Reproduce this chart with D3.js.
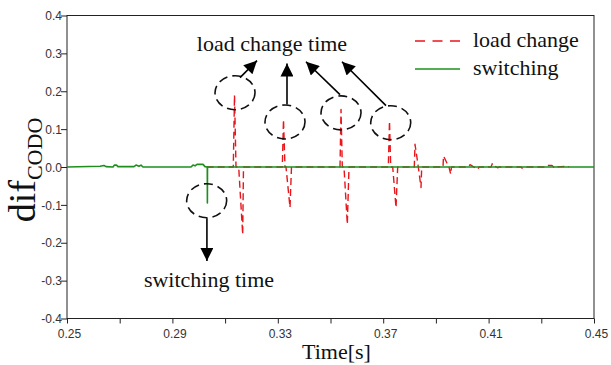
<!DOCTYPE html>
<html>
<head>
<meta charset="utf-8">
<script src="https://cdn.jsdelivr.net/npm/d3@7"></script>
<style>
  html, body { margin: 0; padding: 0; background: #fff; }
  svg { display: block; }
</style>
</head>
<body>
<svg id="chart" width="611" height="365"></svg>
<script>
// Difference signal dif_CODO over time: load-change response vs. switching response
const loadT = [0.3030, 0.31311, 0.31357, 0.31414, 0.31516, 0.31668, 0.31698,
  0.33171, 0.33216, 0.33273, 0.33311, 0.33463, 0.3352,
  0.35361, 0.35399, 0.35448, 0.35512, 0.35638, 0.35702,
  0.37194, 0.37239, 0.37285, 0.37361, 0.37486, 0.3755,
  0.3818, 0.38207, 0.38271, 0.38332, 0.38435, 0.38461,
  0.3927, 0.39289, 0.39422, 0.39497, 0.39562, 0.39592,
  0.40218, 0.40294, 0.40598, 0.40636,
  0.41091, 0.41148, 0.41243, 0.41357, 0.41395,
  0.4223, 0.42268, 0.4231,
  0.43178, 0.43254, 0.43406, 0.4352, 0.43558,
  0.44013, 0.4405];
const loadV = [0, 0, 0.19, 0, 0, -0.178, 0,
  0, 0.125, 0, 0, -0.107, 0,
  0, 0.152, 0, 0, -0.151, 0,
  0, 0.121, 0, 0, -0.107, 0,
  0, 0.06, 0.03, 0, -0.054, 0,
  0, 0.029, 0.01, 0, -0.019, 0,
  0, 0.006, -0.006, 0,
  0, 0.01, 0.002, -0.002, 0,
  0, -0.003, 0,
  0, 0.004, 0.004, -0.003, 0,
  0.002, 0];

const switchT = [0.25, 0.26252, 0.26404, 0.2648, 0.26746, 0.26803, 0.26879, 0.26935,
  0.27543, 0.27619, 0.27732, 0.27808, 0.27884, 0.29706, 0.29782, 0.29858, 0.29934,
  0.30161, 0.30237, 0.30324, 0.30328, 0.30332, 0.45];
const switchV = [0, 0.002, 0.004, 0.001, 0, 0.005, 0.005, 0.001,
  0.001, 0.005, 0.002, 0.005, 0, 0, 0.005, 0.003, 0.007,
  0.007, 0.001, 0, -0.095, 0, 0];

const xTicks = [0.25, 0.27, 0.29, 0.31, 0.33, 0.35, 0.37, 0.39, 0.41, 0.43, 0.45];
const xTickLabels = ["0.25", "", "0.29", "", "0.33", "", "0.37", "", "0.41", "", "0.45"];
const yTicks = [-0.4, -0.3, -0.2, -0.1, 0.0, 0.1, 0.2, 0.3, 0.4];
const yTickLabels = ["-0.4", "-0.3", "-0.2", "-0.1", "0.0", "0.1", "0.2", "0.3", "0.4"];

const seriesNames = ["load change", "switching"];
const seriesColors = ["#e8161c", "#1e8f1e"];

// Annotation marks, in data units
const ringT = [0.3030, 0.31376, 0.33273, 0.35399, 0.37285];
const ringV = [-0.089, 0.196, 0.119, 0.143, 0.117];
const arrowFromT = [0.3031, 0.31565, 0.33349, 0.3536, 0.37106];
const arrowFromV = [-0.135, 0.236, 0.165, 0.191, 0.162];
const arrowToT = [0.3031, 0.32211, 0.33349, 0.3407, 0.35436];
const arrowToV = [-0.248, 0.281, 0.273, 0.278, 0.278];
const noteText = ["switching time", "load change time"];
const noteT = [0.30389, 0.3278];
const noteV = [-0.317, 0.305];

const svg = d3.select("#chart");
const m = { left: 67, right: 594, top: 15.5, bottom: 318.5 };

const x = d3.scaleLinear().domain([0.25, 0.45]).range([m.left, m.right]);
const y = d3.scaleLinear().domain([-0.4, 0.4]).range([m.bottom, m.top]);

const tickFont = "'Liberation Sans', Arial, sans-serif";
const serif = "'Liberation Serif', 'Times New Roman', serif";

// Axes
const xAxis = d3.axisBottom(x).tickValues(xTicks).tickSize(5).tickSizeOuter(0)
  .tickFormat((d, i) => xTickLabels[i]);
const gx = svg.append("g").attr("transform", `translate(0,${m.bottom})`).call(xAxis);
gx.selectAll("text").attr("font-family", tickFont).attr("font-size", 12)
  .attr("fill", "#333").attr("dx", 2).attr("dy", "0.95em");

const yAxis = d3.axisLeft(y).tickValues(yTicks).tickSize(6).tickSizeOuter(0)
  .tickFormat((d, i) => yTickLabels[i]);
const gy = svg.append("g").attr("transform", `translate(${m.left},0)`).call(yAxis);
gy.selectAll("text").attr("font-family", tickFont).attr("font-size", 12)
  .attr("fill", "#333").attr("x", -5).attr("dy", "0.35em");

svg.selectAll(".domain").remove();
svg.selectAll(".tick line").attr("stroke", "#222").attr("stroke-width", 1);

// Frame
svg.append("rect")
  .attr("x", m.left).attr("y", m.top)
  .attr("width", m.right - m.left).attr("height", m.bottom - m.top)
  .attr("fill", "none").attr("stroke", "#222").attr("stroke-width", 1);

// Series
const line = d3.line().x(d => x(d[0])).y(d => y(d[1]));
const loadData = loadT.map((t, i) => [t, loadV[i]]);
const switchData = switchT.map((t, i) => [t, switchV[i]]);

svg.append("path").datum(loadData).attr("d", line)
  .attr("fill", "none").attr("stroke", seriesColors[0]).attr("stroke-width", 1.4)
  .attr("stroke-dasharray", "7,4").attr("stroke-linejoin", "round");
svg.append("path").datum(switchData).attr("d", line)
  .attr("fill", "none").attr("stroke", seriesColors[1]).attr("stroke-width", 1.6)
  .attr("stroke-linejoin", "round");

// Dashed rings round the events
svg.selectAll("ellipse.ring").data(ringT).join("ellipse")
  .attr("class", "ring")
  .attr("cx", (d) => x(d)).attr("cy", (d, i) => y(ringV[i]))
  .attr("rx", 20).attr("ry", 17)
  .attr("fill", "none").attr("stroke", "#111").attr("stroke-width", 1.6)
  .attr("stroke-dasharray", "9,5");

// Arrows
svg.append("defs").append("marker")
  .attr("id", "head").attr("viewBox", "0 0 10 10")
  .attr("refX", 10).attr("refY", 5)
  .attr("markerUnits", "userSpaceOnUse")
  .attr("markerWidth", 17).attr("markerHeight", 13)
  .attr("orient", "auto")
  .append("path").attr("d", "M0,0 L10,5 L0,10 Z").attr("fill", "#000");

svg.selectAll("line.arrow").data(arrowFromT).join("line")
  .attr("class", "arrow")
  .attr("x1", d => x(d)).attr("y1", (d, i) => y(arrowFromV[i]))
  .attr("x2", (d, i) => x(arrowToT[i])).attr("y2", (d, i) => y(arrowToV[i]))
  .attr("stroke", "#000").attr("stroke-width", 1.6)
  .attr("marker-end", "url(#head)");

// Notes
svg.selectAll("text.note").data(noteText).join("text")
  .attr("class", "note")
  .attr("x", (d, i) => x(noteT[i])).attr("y", (d, i) => y(noteV[i]))
  .attr("text-anchor", "middle")
  .attr("font-family", serif).attr("font-size", 22).attr("fill", "#111")
  .text(d => d);

// Legend
const legend = svg.append("g").attr("transform", "translate(415,0)");
const legY = [41, 69];
legend.selectAll("line.key").data(seriesNames).join("line")
  .attr("class", "key")
  .attr("x1", 0).attr("x2", 45)
  .attr("y1", (d, i) => legY[i]).attr("y2", (d, i) => legY[i])
  .attr("stroke", (d, i) => seriesColors[i]).attr("stroke-width", 1.6)
  .attr("stroke-dasharray", (d, i) => i === 0 ? "10,7.5" : null);
legend.selectAll("text.key").data(seriesNames).join("text")
  .attr("class", "key")
  .attr("x", 58).attr("y", (d, i) => legY[i] + 6)
  .attr("font-family", serif).attr("font-size", 22).attr("fill", "#111")
  .text(d => d);

// Axis titles
svg.append("text")
  .attr("x", (m.left + m.right) / 2 + 6).attr("y", 359)
  .attr("text-anchor", "middle")
  .attr("font-family", serif).attr("font-size", 22).attr("fill", "#111")
  .text("Time[s]");

const yTitle = svg.append("text")
  .attr("transform", "translate(35,170) rotate(-90)")
  .attr("text-anchor", "middle")
  .attr("font-family", serif).attr("fill", "#111");
yTitle.append("tspan").attr("font-size", 38).text("dif");
yTitle.append("tspan").attr("font-size", 22).attr("dy", 7).text("CODO");
</script>
</body>
</html>
